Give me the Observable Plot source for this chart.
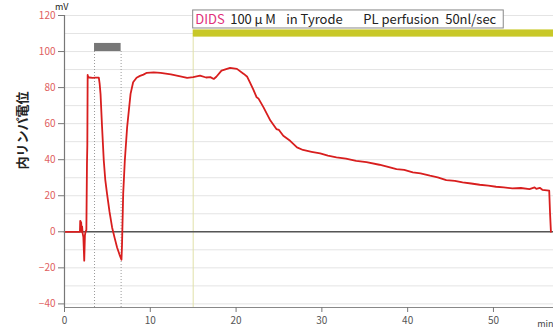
<!DOCTYPE html>
<html><head><meta charset="utf-8">
<script src="https://cdn.jsdelivr.net/npm/d3@7"></script>
<script src="https://cdn.jsdelivr.net/npm/@observablehq/plot@0.6"></script>
<style>
body{margin:0;background:#fff;}
#chart svg{font-family:"Noto Sans CJK JP","Noto Sans",sans-serif;}
</style>
</head><body><div id="chart"></div>
<script>
// Time (min) and endolymphatic potential (mV)
const times = [0,1.8,1.83,1.86,1.95,1.98,2.05,2.12,2.2,2.3,2.38,2.45,2.55,2.62,2.66,2.7,2.74,2.8,2.9,3.3,3.6,4.0,4.1,4.2,4.38,4.58,4.75,4.96,5.25,5.55,5.85,6.13,6.4,6.64,6.7,6.84,7.03,7.3,7.7,8.0,8.4,8.8,9.2,9.6,10.4,11.2,12.4,13.5,14.3,15.0,15.8,16.5,17.0,17.4,17.7,18.3,19.3,20.1,20.9,21.3,21.6,22.0,22.4,22.6,23.2,24.0,24.7,25.0,25.5,26.3,27.1,27.8,28.8,29.8,30.7,31.7,32.8,34.0,35.2,36.7,37.6,38.7,39.6,40.6,41.5,42.6,43.5,44.5,45.5,46.4,47.4,48.4,49.4,50.3,51.2,52.2,53.2,54.2,54.8,55.0,55.4,55.7,56.5,56.6,56.7];
const mV    = [0,0,6,6,5,0,3,-1,-3,-16,-2,0,1,38,48,87,86,85.5,85.6,85.4,85.5,85.5,82,76.5,58,39.4,29,21,11,2.4,-3.5,-8.7,-12.5,-15.5,-8,20.9,39.4,58,76.5,83,85.5,86.5,87.2,88.2,88.5,88.2,87.3,86.2,85.4,85.8,86.6,85.6,85.8,84.8,86,89.4,90.9,90.4,87.6,86,83,79,74.6,74,69,61.7,57,56.5,53.3,50.5,46.8,45.4,44.4,43.5,42.2,41.3,40.6,39.4,38.6,37.2,36.2,34.8,34.3,33,32.4,31.1,30.2,28.7,28.3,27.4,26.8,26.1,25.6,25,24.6,24.1,24.3,23.7,24.6,23.8,24.4,23.3,22.8,10,0];

const yTicks = [-40,-20,0,20,40,60,80,100,120];
const xTicks = [0,10,20,30,40,50];
const gridLevels = d3.range(-40,121,10);
const stimLines = [3.5, 6.6];          // dotted markers of the gray bar
const stimBar = [{x1:3.5, x2:6.6, y1:100, y2:104.5}];
const perfStart = 15;                  // DIDS perfusion starts
const perfBar = [{x1:15, x2:57, y1:108, y2:112}];
const boxWords = ["100\u2009\u03bc\u2009M", "in Tyrode", "PL perfusion", "50nl/sec"];
const boxOffsets = [37, 93, 170, 252];

const data = times.map((t,i)=>({t, v:mV[i]}));

const chart = Plot.plot({
  width:553, height:333,
  marginLeft:64, marginRight:0, marginTop:15, marginBottom:26,
  x:{domain:[0,57]},
  y:{domain:[-42,120]},
  style:{fontSize:"10px", background:"#fff"},
  marks:[
    Plot.ruleY(gridLevels, {stroke:"#e4e4e4", strokeWidth:1}),
    Plot.ruleX(stimLines, {y1:-42, y2:100, stroke:"#9a9a9a", strokeDasharray:"1,2", strokeWidth:1}),
    Plot.ruleX([perfStart], {y1:-42, y2:108, stroke:"#e0e0a8", strokeWidth:1}),
    Plot.rect(stimBar, {x1:"x1", x2:"x2", y1:"y1", y2:"y2", fill:"#777"}),
    Plot.rect(perfBar, {x1:"x1", x2:"x2", y1:"y1", y2:"y2", fill:"#c8c828"}),
    Plot.rect([{x1:15, x2:51.2, y1:112.8, y2:122.8}], {x1:"x1", x2:"x2", y1:"y1", y2:"y2", fill:"#fff", stroke:"#888", strokeWidth:1}),
    Plot.text(["DIDS"], {x:15, y:117.8, text:d=>d, textAnchor:"start", dx:2, fill:"#e0307a", fontSize:13}),
    ...boxWords.map((w,i)=>Plot.text([w], {x:15, y:117.8, text:d=>d, textAnchor:"start", dx:boxOffsets[i], fill:"#222", fontSize:13})),
    Plot.ruleY([0], {stroke:"#555", strokeWidth:1.6}),
    Plot.line(data, {x:"t", y:"v", stroke:"#d81e1e", strokeWidth:1.8}),
    Plot.ruleX([0], {y1:-42, y2:120, stroke:"#777", strokeWidth:1.2}),
    Plot.ruleY([-42], {stroke:"#888", strokeWidth:1.2}),
    Plot.axisY(yTicks, {tickSize:6, label:null, color:"#e06060", stroke:"#777", fontSize:10}),
    Plot.axisX(xTicks, {tickSize:5, label:null, color:"#555", stroke:"#777", fontSize:10, tickPadding:4}),
    Plot.text(["mV"], {x:0, y:120, text:d=>d, textAnchor:"end", dx:4, dy:-8, fill:"#222", fontSize:9}),
    Plot.text(["min"], {x:55.1, y:-42, text:d=>d, textAnchor:"start", dy:17, fill:"#444", fontSize:9}),
    Plot.text(["内リンパ電位"], {frameAnchor:"left", rotate:-90, dx:-42, dy:8, text:d=>d, fill:"#222", fontSize:13, fontWeight:"bold"})
  ]
});
document.getElementById("chart").appendChild(chart);
</script>
</body></html>
